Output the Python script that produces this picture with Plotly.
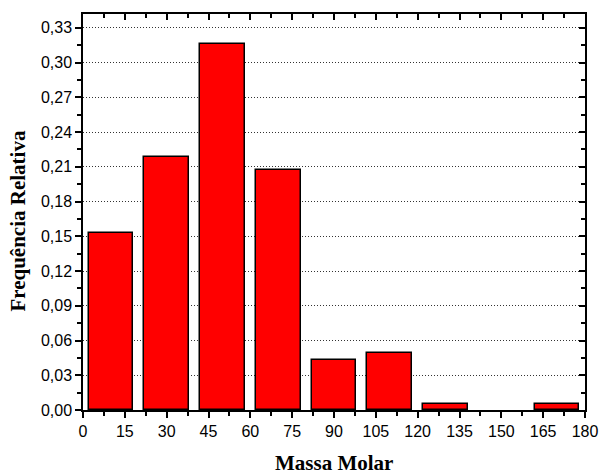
import plotly.graph_objects as go

bin_centers = [10, 30, 50, 70, 90, 110, 130, 150, 170]
frequencies = [0.1526, 0.2182, 0.3165, 0.2073, 0.0435, 0.0489, 0.0050, 0.0, 0.0050]
x_ticks = [0, 15, 30, 45, 60, 75, 90, 105, 120, 135, 150, 165, 180]
y_ticks = [0.00, 0.03, 0.06, 0.09, 0.12, 0.15, 0.18, 0.21, 0.24, 0.27, 0.30, 0.33]
x_title = "Massa Molar"
y_title = "Frequência Relativa"

XR = [0, 180]
YR = [0, 0.342]

fig = go.Figure()
fig.add_trace(go.Bar(
    x=bin_centers, y=frequencies, width=16,
    marker=dict(color="#ff0000",
                line=dict(color="black", width=[1.5 if v > 0 else 0 for v in frequencies])),
    showlegend=False,
))

tickfont = dict(family="Liberation Sans, Arial", size=16, color="black")
titlefont = dict(family="Liberation Serif, Times New Roman", size=21, color="black")

common_tick = dict(tickwidth=1.5, tickcolor="black")

fig.update_layout(
    width=603, height=476,
    margin=dict(l=83, r=18, t=14, b=66),
    plot_bgcolor="white", paper_bgcolor="white",
    bargap=0,
    xaxis=dict(
        range=XR, tickvals=x_ticks, ticktext=[str(v) for v in x_ticks],
        ticks="outside", ticklen=6, **common_tick,
        minor=dict(ticks="outside", ticklen=4, tickwidth=1.5, tickcolor="black", dtick=7.5, tick0=0),
        showline=True, linecolor="black", linewidth=1.5,
        showgrid=False, zeroline=False, automargin=False,
        tickfont=tickfont,
    ),
    yaxis=dict(
        range=YR, tickvals=y_ticks, ticktext=[f"{v:.2f}".replace(".", ",") for v in y_ticks],
        ticks="outside", ticklen=6, **common_tick,
        minor=dict(ticks="outside", ticklen=4, tickwidth=1.5, tickcolor="black", dtick=0.015, tick0=0,
                   showgrid=False),
        showline=True, linecolor="black", linewidth=1.5,
        showgrid=True, gridcolor="#333333", griddash="1px,2px", gridwidth=1,
        zeroline=False, automargin=False,
        tickfont=tickfont,
        layer="below traces",
    ),
    xaxis2=dict(
        range=XR, overlaying="x", side="top", tickvals=x_ticks, showticklabels=False,
        ticks="inside", ticklen=6, **common_tick,
        minor=dict(ticks="inside", ticklen=4, tickwidth=1.5, tickcolor="black", dtick=7.5, tick0=0),
        showline=True, linecolor="black", linewidth=1.5, showgrid=False, zeroline=False,
        automargin=False,
    ),
    yaxis2=dict(
        range=YR, overlaying="y", side="right", tickvals=y_ticks, showticklabels=False,
        ticks="inside", ticklen=6, **common_tick,
        minor=dict(ticks="inside", ticklen=4, tickwidth=1.5, tickcolor="black", dtick=0.015, tick0=0),
        showline=True, linecolor="black", linewidth=1.5, showgrid=False, zeroline=False,
        automargin=False,
    ),
    annotations=[
        dict(text=f"<b>{x_title}</b>", xref="paper", yref="paper", x=0.5, y=0,
             yshift=-53, xanchor="center", yanchor="middle", showarrow=False, font=titlefont),
        dict(text=f"<b>{y_title}</b>", xref="paper", yref="paper", x=0, y=0.477,
             xshift=-64.5, xanchor="center", yanchor="middle", textangle=-90,
             showarrow=False, font=titlefont),
    ],
)

# invisible trace to activate the mirror axes
fig.add_trace(go.Scatter(x=[None], y=[None], xaxis="x2", yaxis="y2", showlegend=False, hoverinfo="skip"))

fig.write_html("out.html")
